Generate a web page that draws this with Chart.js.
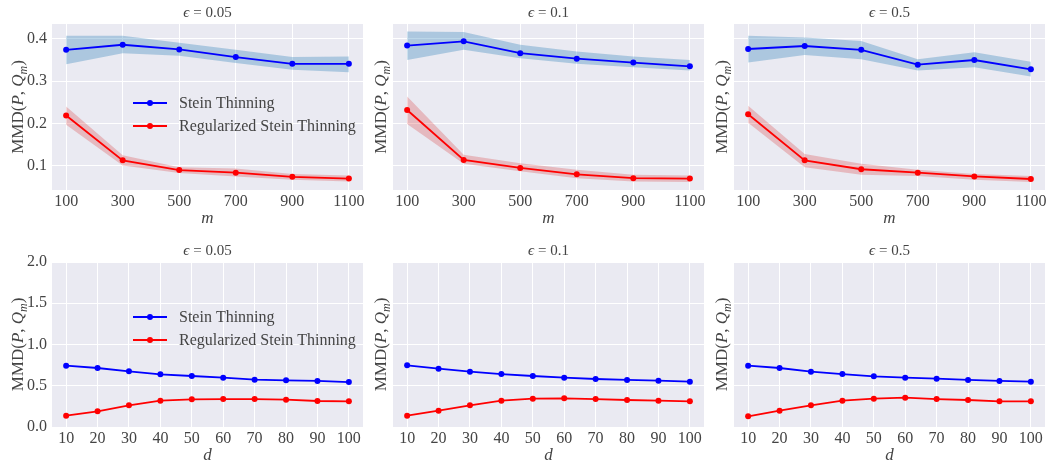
<!DOCTYPE html>
<html>
<head>
<meta charset="utf-8">
<script src="https://cdn.jsdelivr.net/npm/chart.js@4.4.1/dist/chart.umd.min.js"></script>
<style>
  html, body { margin:0; padding:0; background:#fff; width:1047px; height:462px; overflow:hidden; position:relative; }
  canvas { position:absolute; }
</style>
</head>
<body>
<script>
// ===== data =====
const mValues = [100, 300, 500, 700, 900, 1100];
const dValues = [10, 20, 30, 40, 50, 60, 70, 80, 90, 100];
const mTickLabels = ['100', '300', '500', '700', '900', '1100'];
const dTickLabels = ['10', '20', '30', '40', '50', '60', '70', '80', '90', '100'];
const yTopTicks = [0.1, 0.2, 0.3, 0.4];
const yTopTickLabels = ['0.1', '0.2', '0.3', '0.4'];
const yBottomTicks = [0, 0.5, 1, 1.5, 2];
const yBottomTickLabels = ['0.0', '0.5', '1.0', '1.5', '2.0'];
const epsLabels = ['0.05', '0.1', '0.5'];
const seriesNames = ['Stein Thinning', 'Regularized Stein Thinning'];

// MMD vs m, one array per epsilon (mean, lower, upper)
const st_m_005    = [0.374, 0.386, 0.375, 0.357, 0.341, 0.341];
const st_m_005_lo = [0.340, 0.366, 0.360, 0.343, 0.327, 0.321];
const st_m_005_hi = [0.407, 0.407, 0.391, 0.374, 0.357, 0.358];
const rst_m_005    = [0.219, 0.113, 0.090, 0.084, 0.074, 0.070];
const rst_m_005_lo = [0.197, 0.101, 0.083, 0.075, 0.067, 0.063];
const rst_m_005_hi = [0.240, 0.125, 0.097, 0.094, 0.081, 0.077];

const st_m_01    = [0.384, 0.394, 0.366, 0.353, 0.344, 0.335];
const st_m_01_lo = [0.350, 0.374, 0.354, 0.341, 0.333, 0.325];
const st_m_01_hi = [0.417, 0.416, 0.386, 0.370, 0.358, 0.350];
const rst_m_01    = [0.232, 0.114, 0.095, 0.080, 0.071, 0.070];
const rst_m_01_lo = [0.199, 0.105, 0.087, 0.071, 0.063, 0.062];
const rst_m_01_hi = [0.264, 0.126, 0.106, 0.091, 0.079, 0.077];

const st_m_05    = [0.376, 0.383, 0.374, 0.339, 0.350, 0.328];
const st_m_05_lo = [0.344, 0.362, 0.352, 0.325, 0.333, 0.311];
const st_m_05_hi = [0.407, 0.403, 0.395, 0.352, 0.368, 0.346];
const rst_m_05    = [0.222, 0.113, 0.092, 0.084, 0.075, 0.069];
const rst_m_05_lo = [0.202, 0.097, 0.079, 0.076, 0.067, 0.062];
const rst_m_05_hi = [0.242, 0.128, 0.105, 0.091, 0.081, 0.076];

// MMD vs d
const st_d_005  = [0.743, 0.715, 0.675, 0.638, 0.618, 0.598, 0.574, 0.566, 0.558, 0.545];
const rst_d_005 = [0.137, 0.190, 0.263, 0.319, 0.335, 0.339, 0.339, 0.331, 0.315, 0.311];
const st_d_01   = [0.747, 0.707, 0.671, 0.642, 0.618, 0.598, 0.582, 0.570, 0.562, 0.549];
const rst_d_01  = [0.137, 0.198, 0.263, 0.319, 0.343, 0.347, 0.339, 0.327, 0.319, 0.311];
const st_d_05   = [0.743, 0.715, 0.671, 0.642, 0.614, 0.598, 0.586, 0.570, 0.558, 0.549];
const rst_d_05  = [0.129, 0.198, 0.263, 0.319, 0.343, 0.356, 0.339, 0.327, 0.311, 0.311];

// ===== style =====
const SERIF = "'Liberation Serif', 'DejaVu Serif', serif";
const TEXT = '#444444';
const FS = 16;
const BLUE = '#0000ff', RED = '#ff0000';
const BLUE_BAND = 'rgba(31,119,180,0.3)', RED_BAND = 'rgba(214,39,40,0.25)';

const colLeft = [52, 393, 734];
const plotW = 311;
const rows = [
  { canvasTop: 0,   plotTop: 24,  plotH: 166, canvasH: 230 },
  { canvasTop: 230, plotTop: 262, plotH: 165, canvasH: 232 }
];

function pts(xs, ys){ return xs.map((x, i) => ({ x, y: ys[i] })); }

// draws a row of text pieces (italic / subscript) centred on cx
function drawPieces(ctx, pieces, cx, cy, size){
  const font = (p) => `${p.it ? 'italic ' : ''}${p.sub ? size * 0.7 : size}px ${SERIF}`;
  let total = 0;
  pieces.forEach(p => { ctx.font = font(p); p.w = ctx.measureText(p.t).width; total += p.w; });
  let x = cx - total / 2;
  ctx.textBaseline = 'alphabetic';
  ctx.textAlign = 'left';
  pieces.forEach(p => {
    ctx.font = font(p);
    ctx.fillText(p.t, x, cy + size * 0.3 + (p.sub ? size * 0.22 : 0));
    x += p.w;
  });
}

function makeDecor(panel){
  return {
    id: 'decor',
    beforeDraw(chart){
      const a = chart.chartArea, c = chart.ctx;
      c.save();
      c.fillStyle = '#EAEAF2';
      c.fillRect(a.left, a.top, a.right - a.left, a.bottom - a.top);
      c.restore();
    },
    afterDraw(chart){
      const a = chart.chartArea, c = chart.ctx;
      const cx = (a.left + a.right) / 2;
      c.save();
      c.fillStyle = TEXT;
      // title
      drawPieces(c, [{ t: 'ϵ', it: true }, { t: ' = ' + panel.eps }], cx, a.top - 12, 15);
      // x label
      drawPieces(c, [{ t: panel.xlabel, it: true }], cx, a.bottom + 28, FS + 1);
      // y label
      c.save();
      c.translate(a.left - (panel.col === 0 ? 34 : 12), (a.top + a.bottom) / 2);
      c.rotate(-Math.PI / 2);
      drawPieces(c, [{ t: 'MMD(' }, { t: 'P', it: true }, { t: ', ' }, { t: 'Q', it: true }, { t: 'm', it: true, sub: true }, { t: ')' }], 0, 0, FS + 1);
      c.restore();
      // legend
      if (panel.legend){
        const ly = panel.legendY;
        chart.data.datasets.slice(0, 2).forEach((ds, i) => {
          const y = a.top + ly + i * 23;
          c.strokeStyle = ds.borderColor;
          c.lineWidth = 1.8;
          c.beginPath(); c.moveTo(a.left + 81, y); c.lineTo(a.left + 115, y); c.stroke();
          c.fillStyle = ds.borderColor;
          c.beginPath(); c.arc(a.left + 98, y, 3, 0, Math.PI * 2); c.fill();
          c.fillStyle = TEXT;
          c.font = `${FS}px ${SERIF}`;
          c.textAlign = 'left';
          c.textBaseline = 'middle';
          c.fillText(ds.label, a.left + 127, y + 1);
        });
      }
      c.restore();
    }
  };
}

function lineDs(label, color, data){
  return { label, data, borderColor: color, backgroundColor: color, borderWidth: 1.8,
           pointRadius: 3, pointBorderWidth: 0, pointBackgroundColor: color, fill: false, tension: 0 };
}
function bandDs(data, color, fill){
  return { label: '', data, borderWidth: 0, borderColor: 'rgba(0,0,0,0)', pointRadius: 0,
           backgroundColor: color, fill, tension: 0 };
}

const panels = [
  { row: 0, col: 0, eps: epsLabels[0], st: st_m_005, rst: rst_m_005, bands: [st_m_005_lo, st_m_005_hi, rst_m_005_lo, rst_m_005_hi], legend: true, legendY: 79 },
  { row: 0, col: 1, eps: epsLabels[1], st: st_m_01,  rst: rst_m_01,  bands: [st_m_01_lo, st_m_01_hi, rst_m_01_lo, rst_m_01_hi] },
  { row: 0, col: 2, eps: epsLabels[2], st: st_m_05,  rst: rst_m_05,  bands: [st_m_05_lo, st_m_05_hi, rst_m_05_lo, rst_m_05_hi] },
  { row: 1, col: 0, eps: epsLabels[0], st: st_d_005, rst: rst_d_005, legend: true, legendY: 55 },
  { row: 1, col: 1, eps: epsLabels[1], st: st_d_01,  rst: rst_d_01 },
  { row: 1, col: 2, eps: epsLabels[2], st: st_d_05,  rst: rst_d_05 }
];

panels.forEach(p => {
  const r = rows[p.row];
  const top = p.row === 0;
  const xs = top ? mValues : dValues;
  const xTicks = xs, xLabels = top ? mTickLabels : dTickLabels;
  const yTicks = top ? yTopTicks : yBottomTicks;
  const yLabels = top ? yTopTickLabels : yBottomTickLabels;
  p.xlabel = top ? 'm' : 'd';

  const cv = document.createElement('canvas');
  const W = 52 + plotW + 20;
  cv.width = W; cv.height = r.canvasH;
  cv.style.left = (colLeft[p.col] - 52) + 'px';
  cv.style.top = r.canvasTop + 'px';
  cv.style.width = W + 'px'; cv.style.height = r.canvasH + 'px';
  document.body.appendChild(cv);

  const datasets = [
    lineDs(seriesNames[0], BLUE, pts(xs, p.st)),
    lineDs(seriesNames[1], RED, pts(xs, p.rst))
  ];
  if (p.bands){
    datasets.push(bandDs(pts(xs, p.bands[0]), BLUE_BAND, false));
    datasets.push(bandDs(pts(xs, p.bands[1]), BLUE_BAND, '-1'));
    datasets.push(bandDs(pts(xs, p.bands[2]), RED_BAND, false));
    datasets.push(bandDs(pts(xs, p.bands[3]), RED_BAND, '-1'));
  }

  new Chart(cv, {
    type: 'line',
    data: { datasets },
    options: {
      responsive: false,
      animation: false,
      events: [],
      layout: { padding: { top: r.plotTop - r.canvasTop, right: 20, left: 0, bottom: 0 } },
      plugins: { legend: { display: false }, tooltip: { enabled: false }, title: { display: false } },
      scales: {
        x: {
          type: 'linear',
          min: top ? 50 : 5.5,
          max: top ? 1150 : 104.5,
          afterBuildTicks: s => { s.ticks = xTicks.map(v => ({ value: v })); },
          afterFit: s => { s.height = r.canvasH - (r.plotTop - r.canvasTop) - r.plotH; },
          ticks: { color: TEXT, font: { family: SERIF, size: FS }, padding: 2, maxRotation: 0,
                   callback: (v, i) => xLabels[i] },
          grid: { color: '#ffffff', lineWidth: 1, drawTicks: false },
          border: { display: false }
        },
        y: {
          type: 'linear',
          min: top ? 0.043 : 0,
          max: top ? 0.435 : 2,
          afterBuildTicks: s => { s.ticks = yTicks.map(v => ({ value: v })); },
          afterFit: s => { s.width = 52; },
          ticks: { display: p.col === 0, color: TEXT, font: { family: SERIF, size: FS }, padding: 5,
                   callback: (v, i) => yLabels[i] },
          grid: { color: '#ffffff', lineWidth: 1, drawTicks: false },
          border: { display: false }
        }
      }
    },
    plugins: [makeDecor(p)]
  });
});
</script>
</body>
</html>
